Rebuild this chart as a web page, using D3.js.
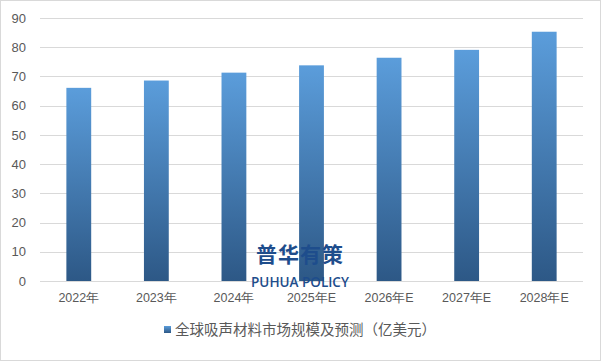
<!DOCTYPE html>
<html>
<head>
<meta charset="utf-8">
<script src="https://cdn.jsdelivr.net/npm/d3@7"></script>
<style>
    body { margin: 0; background: #fff; }
    svg { display: block; font-family: "Noto Sans CJK SC", "Noto Sans", sans-serif; }
</style>
</head>
<body>
<div id="chart"></div>
<script>
var categories = ["2022年", "2023年", "2024年", "2025年E", "2026年E", "2027年E", "2028年E"];
var values = [66.1, 68.6, 71.3, 73.8, 76.4, 79.1, 85.3];
var yTicks = [0, 10, 20, 30, 40, 50, 60, 70, 80, 90];
var seriesName = "全球吸声材料市场规模及预测（亿美元）";

var width = 601, height = 361;
var margin = {top: 18, right: 18, bottom: 80, left: 40};

var svg = d3.select("#chart").append("svg")
    .attr("width", width)
    .attr("height", height);

var defs = svg.append("defs");
var grad = defs.append("linearGradient")
    .attr("id", "barGrad")
    .attr("x1", 0).attr("y1", 0).attr("x2", 0).attr("y2", 1);
grad.append("stop").attr("offset", "0%").attr("stop-color", "#5b9ddb");
grad.append("stop").attr("offset", "100%").attr("stop-color", "#2d5886");

// outer border
svg.append("rect")
    .attr("x", 0.5).attr("y", 0.5)
    .attr("width", width - 1).attr("height", height - 1)
    .attr("fill", "none")
    .attr("stroke", "#d9d9d9");

var x = d3.scaleBand()
    .domain(categories)
    .range([margin.left, width - margin.right])
    .paddingInner(0.68)
    .paddingOuter(0.34);

var y = d3.scaleLinear()
    .domain([0, 90])
    .range([height - margin.bottom, margin.top]);

// gridlines
svg.append("g")
    .selectAll("line")
    .data(yTicks)
    .enter().append("line")
    .attr("x1", margin.left)
    .attr("x2", width - margin.right)
    .attr("y1", function(d) { return Math.round(y(d)) + 0.5; })
    .attr("y2", function(d) { return Math.round(y(d)) + 0.5; })
    .attr("stroke", "#d9d9d9")
    .attr("stroke-width", 1);

// y axis labels
var yAxis = d3.axisLeft(y).tickValues(yTicks).tickSize(0).tickPadding(0);
var yg = svg.append("g")
    .attr("transform", "translate(" + (margin.left - 14) + ",0)")
    .call(yAxis);
yg.select(".domain").remove();
yg.selectAll("text")
    .attr("fill", "#595959")
    .style("font-size", "13px");

// bars
svg.append("g")
    .selectAll("rect")
    .data(values)
    .enter().append("rect")
    .attr("x", function(d, i) { return x(categories[i]); })
    .attr("width", x.bandwidth())
    .attr("y", function(d) { return y(d); })
    .attr("height", function(d) { return y(0) - y(d); })
    .attr("fill", "url(#barGrad)");

// x axis labels
var xAxis = d3.axisBottom(x).tickSize(0).tickPadding(0);
var xg = svg.append("g")
    .attr("transform", "translate(0," + (y(0) + 12) + ")")
    .call(xAxis);
xg.select(".domain").remove();
xg.selectAll("text")
    .attr("fill", "#595959")
    .style("font-size", "12.5px");

// watermark
svg.append("text")
    .attr("x", 300).attr("y", 262)
    .attr("text-anchor", "middle")
    .attr("fill", "#1e4d8c")
    .style("font-size", "21px")
    .style("font-weight", "bold")
    .style("letter-spacing", "1px")
    .text("普华有策");
svg.append("text")
    .attr("x", 300).attr("y", 287)
    .attr("text-anchor", "middle")
    .attr("fill", "#1e4d8c")
    .style("font-size", "13.5px")
    .style("font-weight", "600")
    .style("font-family", "'Open Sans', sans-serif")
    .text("PUHUA POLICY");

// legend
var leg = svg.append("g").attr("transform", "translate(164,330)");
leg.append("rect")
    .attr("x", 0).attr("y", -4)
    .attr("width", 7).attr("height", 7)
    .attr("fill", "url(#barGrad)");
leg.append("text")
    .attr("x", 11).attr("y", 0)
    .attr("dy", "0.35em")
    .attr("fill", "#595959")
    .style("font-size", "14.5px")
    .text(seriesName);
</script>
</body>
</html>
